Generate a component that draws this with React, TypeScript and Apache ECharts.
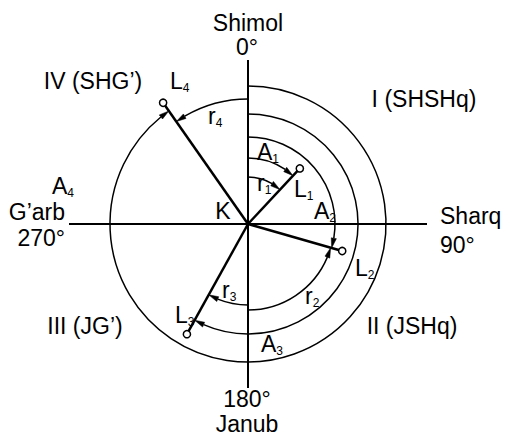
import React, { useEffect, useRef } from 'react';
import * as echarts from 'echarts';

// Points L1..L4: bearing (degrees clockwise from north) and distance from K
const pointNames = ['L1', 'L2', 'L3', 'L4'];
const pointBearings = [43, 106, 209, 325];
const pointDistances = [76, 98, 126, 148];

// Cardinal axis arms
const axisBearings = [0, 90, 180, 270];
const axisLengths = [164, 179, 164, 179];

// Azimuth arcs A1..A4: from north (0°) clockwise to each point
const azimuthNames = ['A1', 'A2', 'A3', 'A4'];
const azimuthRadii = [66, 87, 110, 138];
const azimuthFrom = [0, 0, 0, 0];

// Rumb arcs r1..r4: from the nearest meridian end to each point
const rumbNames = ['r1', 'r2', 'r3', 'r4'];
const rumbRadii = [47, 86, 81, 125];
const rumbFrom = [0, 180, 180, 360];

// Text labels
const directionNames = ['Shimol', 'Sharq', 'Janub', 'G’arb'];
const directionDegrees = ['0°', '90°', '180°', '270°'];
const quarterNames = ['I (SHSHq)', 'II (JSHq)', 'III (JG’)', 'IV (SHG’)'];
const centerName = 'K';

const FONT = '"Liberation Sans", Arial, Helvetica, sans-serif';
const FS = 23;
const SUB = 12;

function subLabel(name: string, x: number, y: number) {
  return {
    type: 'text',
    x,
    y,
    style: {
      text: `{m|${name[0]}}{s|${name.slice(1)}}`,
      align: 'left',
      textAlign: 'left',
      verticalAlign: 'middle',
      textVerticalAlign: 'middle',
      fill: '#000',
      rich: {
        m: { fontSize: FS, fontFamily: FONT, lineHeight: 26, verticalAlign: 'middle', fill: '#000' },
        s: { fontSize: SUB, fontFamily: FONT, lineHeight: 13, verticalAlign: 'bottom', fill: '#000' },
      },
    },
  };
}

function plainLabel(text: string, x: number, y: number, align: string) {
  return {
    type: 'text',
    x,
    y,
    style: {
      text,
      fontSize: FS,
      fontFamily: FONT,
      fill: '#000',
      align,
      textAlign: align,
      verticalAlign: 'middle',
      textVerticalAlign: 'middle',
    },
  };
}

function arcRender(params: any, api: any) {
  const R = api.value(0);
  const b0 = api.value(1);
  const b1 = api.value(2);
  const c = api.coord([0, 0]);
  const p0 = api.coord([R, b0]);
  const p1 = api.coord([R, b1]);
  const r = Math.hypot(p1[0] - c[0], p1[1] - c[1]);
  const a0 = Math.atan2(p0[1] - c[1], p0[0] - c[0]);
  let a1 = Math.atan2(p1[1] - c[1], p1[0] - c[0]);
  const cw = b1 > b0;
  if (cw) {
    while (a1 <= a0) a1 += Math.PI * 2;
  } else {
    while (a1 >= a0) a1 -= Math.PI * 2;
  }
  const sgn = cw ? 1 : -1;
  const AL = 10;
  const AW = 2.6;
  const ab = a1 - (sgn * AL) / r;
  const bx = c[0] + r * Math.cos(ab);
  const by = c[1] + r * Math.sin(ab);
  const ux = Math.cos(ab);
  const uy = Math.sin(ab);
  return {
    type: 'group',
    children: [
      {
        type: 'arc',
        shape: { cx: c[0], cy: c[1], r, startAngle: a0, endAngle: ab, clockwise: cw },
        style: { stroke: '#000', fill: 'none', lineWidth: 1.5 },
      },
      {
        type: 'polygon',
        shape: {
          points: [
            [p1[0], p1[1]],
            [bx + ux * AW, by + uy * AW],
            [bx - ux * AW, by - uy * AW],
          ],
        },
        style: { fill: '#000', stroke: '#000', lineWidth: 0.5 },
      },
    ],
  };
}

function axisRender(params: any, api: any) {
  const c = api.coord([0, api.value(1)]);
  const p = api.coord([api.value(0), api.value(1)]);
  return {
    type: 'line',
    shape: { x1: c[0], y1: c[1], x2: p[0], y2: p[1] },
    style: { stroke: '#000', lineWidth: 2 },
  };
}

function pointRender(params: any, api: any) {
  const c = api.coord([0, api.value(1)]);
  const p = api.coord([api.value(0), api.value(1)]);
  return {
    type: 'group',
    children: [
      {
        type: 'line',
        shape: { x1: c[0], y1: c[1], x2: p[0], y2: p[1] },
        style: { stroke: '#000', lineWidth: 2.5 },
      },
      {
        type: 'circle',
        shape: { cx: p[0], cy: p[1], r: 3.6 },
        style: { fill: '#fff', stroke: '#000', lineWidth: 1.5 },
      },
    ],
  };
}

export default function App() {
  const ref = useRef<HTMLDivElement>(null);
  useEffect(() => {
    if (!ref.current) return;
    const chart = echarts.init(ref.current, undefined, { renderer: 'svg' });

    const graphics: any[] = [
      plainLabel(directionNames[0], 248, 23, 'center'),
      plainLabel(directionDegrees[0], 247, 47, 'center'),
      plainLabel(directionNames[1], 440, 216, 'left'),
      plainLabel(directionDegrees[1], 440, 245, 'left'),
      plainLabel(directionDegrees[2], 247, 399, 'center'),
      plainLabel(directionNames[2], 247, 424, 'center'),
      plainLabel(directionNames[3], 65, 212, 'right'),
      plainLabel(directionDegrees[3], 65, 238, 'right'),
      plainLabel(quarterNames[0], 424, 99, 'center'),
      plainLabel(quarterNames[1], 412, 326, 'center'),
      plainLabel(quarterNames[2], 85, 326, 'center'),
      plainLabel(quarterNames[3], 93, 81, 'center'),
      plainLabel(centerName, 223, 211, 'center'),
      subLabel(pointNames[0], 294, 189),
      subLabel(pointNames[1], 355, 268),
      subLabel(pointNames[2], 175, 315),
      subLabel(pointNames[3], 170, 81),
      subLabel(azimuthNames[0], 257, 152),
      subLabel(azimuthNames[1], 314, 211),
      subLabel(azimuthNames[2], 261, 344),
      subLabel(azimuthNames[3], 52, 186),
      subLabel(rumbNames[0], 257, 183),
      subLabel(rumbNames[1], 305, 296),
      subLabel(rumbNames[2], 222, 290),
      subLabel(rumbNames[3], 208, 116),
    ];

    chart.setOption({
      animation: false,
      backgroundColor: '#fff',
      polar: { center: [248, 224], radius: 180 },
      angleAxis: {
        type: 'value',
        min: 0,
        max: 360,
        startAngle: 90,
        clockwise: true,
        show: false,
      },
      radiusAxis: { type: 'value', min: 0, max: 180, show: false },
      series: [
        {
          type: 'custom',
          name: 'axes',
          coordinateSystem: 'polar',
          silent: true,
          data: axisBearings.map((b, i) => [axisLengths[i], b]),
          renderItem: axisRender,
        },
        {
          type: 'custom',
          name: 'azimuth',
          coordinateSystem: 'polar',
          silent: true,
          data: azimuthRadii.map((r, i) => [r, azimuthFrom[i], pointBearings[i]]),
          renderItem: arcRender,
        },
        {
          type: 'custom',
          name: 'rumb',
          coordinateSystem: 'polar',
          silent: true,
          data: rumbRadii.map((r, i) => [r, rumbFrom[i], pointBearings[i]]),
          renderItem: arcRender,
        },
        {
          type: 'custom',
          name: 'points',
          coordinateSystem: 'polar',
          silent: true,
          data: pointDistances.map((d, i) => [d, pointBearings[i]]),
          renderItem: pointRender,
        },
      ],
      graphic: graphics,
    });
    return () => chart.dispose();
  }, []);
  return (
    <div
      ref={ref}
      style={{ position: 'absolute', left: 0, top: 0, width: 505, height: 438, background: '#fff' }}
    />
  );
}
